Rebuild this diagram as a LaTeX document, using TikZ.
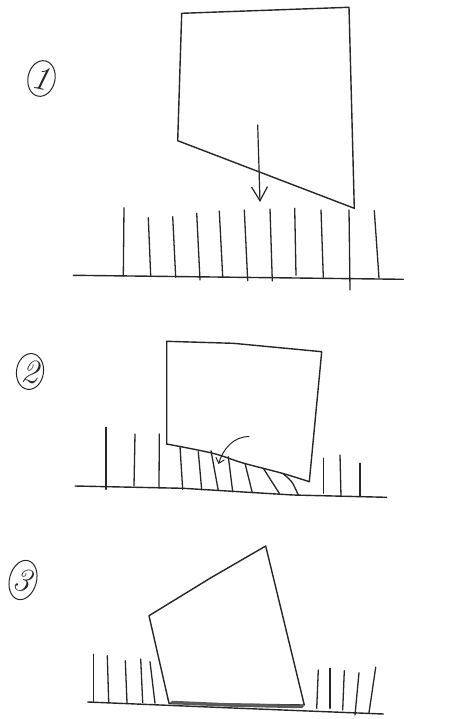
\documentclass[tikz,border=0pt]{standalone}
\usetikzlibrary{arrows.meta,shapes.geometric}
\begin{document}
\begin{tikzpicture}[x=1pt,y=-1pt,
  ink/.style={line width=1.4pt,line cap=round,line join=round,black!85},
  bristle/.style={line width=1.3pt,line cap=round,black!85},
  stepno/.style={ellipse,draw,line width=1pt,black!85,inner sep=0pt,
    minimum width=27pt,minimum height=36pt,font=\fontsize{34}{36}\selectfont\itshape}]
\useasboundingbox (0,0) rectangle (449,719);

% ---------- stage 1: block falling onto the bristles ----------
\node[stepno,rotate=-12] (n1) at (41.5,78.5) {1};
\coordinate (b1a) at (181.7,13.3);
\coordinate (b1b) at (349,7.3);
\coordinate (b1c) at (354.3,208.3);
\coordinate (b1d) at (177.7,140.7);
\draw[ink] (b1a) -- (b1b) -- (b1c) -- (b1d) -- cycle;
\coordinate (g1a) at (73.3,275.3);
\coordinate (g1b) at (403.3,279.3);
\draw[ink] (g1a) -- (g1b);
\foreach \xt/\yt/\xb/\yb in {124/207.7/123.3/276, 148.3/217.7/150.7/276,
    172.7/216.7/175.7/277.3, 196.7/213.3/200/280, 219.3/211/222.7/276.7,
    244.3/210/247.7/280.7, 270/209/272.3/281, 294.7/208.3/296/275.3,
    321/210/323.3/277.3, 349/210/350/290, 374.3/210.7/379/278.3}
  \draw[bristle] (\xt,\yt) -- (\xb,\yb);
\coordinate (a1s) at (257.7,125);
\coordinate (a1e) at (260,202);
\draw[ink,line width=1.2pt,-{Straight Barb[length=14pt,width=16pt,line width=1.2pt]}] (a1s) -- (a1e);

% ---------- stage 2: block pressing the bristles sideways ----------
\node[stepno,rotate=-8] (n2) at (30,371.5) {2};
\coordinate (b2a) at (166.7,341.3);
\coordinate (b2b) at (321.7,351.7);
\coordinate (b2c) at (309.3,481.7);
\coordinate (b2d) at (166.7,444);
\draw[ink] (b2d) -- (b2a) -- (233.3,343.3) -- (b2b) -- (b2c);
\draw[ink] plot[smooth] coordinates {(166.7,444) (213,453.3) (243,463) (283,473.5) (309.3,481.7)};
\coordinate (g2a) at (75,486);
\coordinate (g2b) at (386.7,497.3);
\draw[ink] (g2a) -- (183,488.3) -- (293,495) -- (g2b);
\foreach \xt/\yt/\xb/\yb in {106/427.3/106/489.3, 135/434/134/486,
    159.3/434/159/488.3, 180/446.7/182.7/489.3, 198.3/451.7/201.7/490,
    211/450.7/218.3/490.7, 228.3/456.7/232.7/491.7, 245/463.3/252.3/492.7,
    263.3/468.3/279.3/493.3, 323.3/458.3/323.3/493.3, 340/455/341/496.7,
    360/463.3/360/496.7}
  \draw[bristle] (\xt,\yt) -- (\xb,\yb);
\draw[bristle] (283.3,474) .. controls (292,481) .. (298.3,495);
\coordinate (a2s) at (249.3,436.7);
\coordinate (a2e) at (218.5,464);
\draw[line width=1pt,black!85,-{Straight Barb[length=5pt,width=9pt,line width=1pt]}]
  (a2s) .. controls (234,436) and (223,449) .. (a2e);

% ---------- stage 3: block tipped over, resting on the base ----------
\node[stepno,rotate=-15,minimum height=40pt] (n3) at (23,580) {3};
\coordinate (b3a) at (265.7,546);
\coordinate (b3b) at (149,615.7);
\coordinate (b3c) at (169,703.3);
\coordinate (b3d) at (304.3,705);
\draw[ink] (b3a) -- (210,578.3) -- (b3b) -- (b3c) -- (b3d) -- cycle;
\draw[line width=3.5pt,black!65,line cap=round] (172,702.5) -- (230,705) -- (302,706.5);
\coordinate (g3a) at (87.7,702);
\coordinate (g3b) at (383.3,714);
\draw[ink] (g3a) -- (233,708) -- (g3b);
\foreach \xt/\yt/\xb/\yb in {93.3/654.3/93.3/702, 107.3/655.7/108.7/702,
    125.3/660.7/127/702.7, 140.7/659/142.7/702.7, 150/661.7/155/703.3,
    318.3/670/316.7/708.3, 330/668.3/330/708.3, 344.3/670.7/342.7/710,
    359/672.7/355/715, 375.7/667.3/369/712.7}
  \draw[bristle] (\xt,\yt) -- (\xb,\yb);
\end{tikzpicture}
\end{document}
